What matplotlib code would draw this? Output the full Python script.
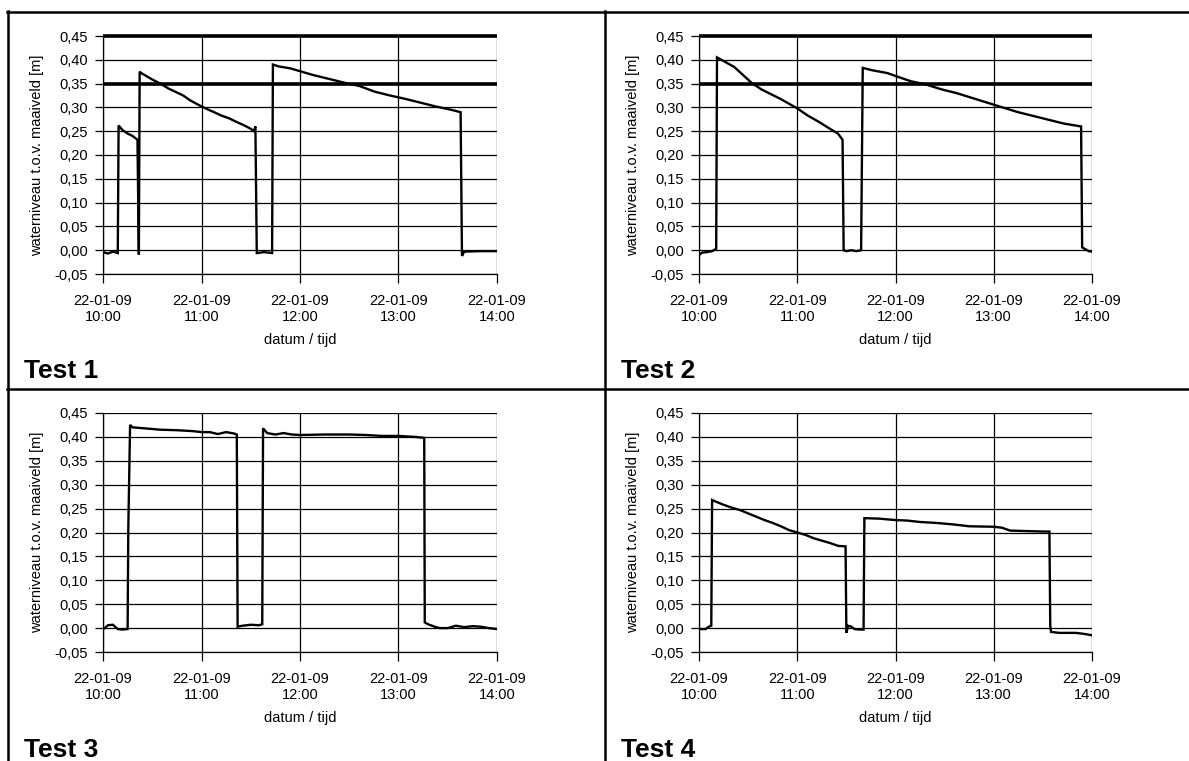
import matplotlib
matplotlib.use("Agg")
import matplotlib.pyplot as plt
import matplotlib.dates as mdates
from matplotlib.lines import Line2D
from matplotlib.ticker import FuncFormatter, MultipleLocator
import pandas as pd

plt.rcParams['font.family'] = ['Liberation Sans', 'DejaVu Sans']

DATE = "2009-01-22 "

# ---------------- data ----------------
test1_times = ["10:00", "10:03", "10:06", "10:09", "10:09:30", "10:12", "10:15", "10:18", "10:21",
               "10:21:50", "10:22:20", "10:23:20", "10:30:20", "10:36", "10:39:40", "10:44", "10:48:50",
               "10:53", "10:58:20", "11:03", "11:07:40", "11:12", "11:16:50", "11:21", "11:26:10",
               "11:30", "11:32", "11:32:50", "11:33:40", "11:34", "11:38", "11:43", "11:43:30",
               "11:47:10", "11:54:10", "12:00", "12:08", "12:17:30", "12:26:50", "12:36:10",
               "12:45:30", "12:54:50", "13:04", "13:13:20", "13:22:40", "13:32", "13:37:50",
               "13:38:40", "13:40", "13:50", "14:00"]
test1_values = [-0.004, -0.007, -0.003, -0.006, 0.262, 0.252, 0.245, 0.240, 0.232,
                -0.009, 0.375, 0.372, 0.358, 0.348, 0.340, 0.333, 0.325,
                0.315, 0.305, 0.297, 0.290, 0.283, 0.277, 0.270, 0.262,
                0.255, 0.250, 0.260, -0.006, -0.006, -0.004, -0.006, 0.390,
                0.386, 0.382, 0.376, 0.368, 0.360, 0.352, 0.345,
                0.333, 0.325, 0.318, 0.310, 0.302, 0.295, 0.290,
                -0.012, -0.003, -0.002, -0.002]

test2_times = ["10:00", "10:02", "10:05", "10:08", "10:10:30", "10:11", "10:21:30", "10:32",
               "10:38", "10:49:40", "11:00", "11:06:20", "11:13", "11:20", "11:24:50", "11:27:40",
               "11:28:20", "11:30", "11:33", "11:36", "11:39", "11:40", "11:45:50", "11:55:10",
               "12:00", "12:09:20", "12:18:40", "12:28", "12:37:20", "12:46:40", "12:56",
               "13:05:20", "13:14:50", "13:24:10", "13:33:30", "13:42:50", "13:53:20", "13:54",
               "13:56", "13:58", "14:00"]
test2_values = [-0.010, -0.005, -0.004, -0.002, 0.003, 0.405, 0.385, 0.352,
                0.338, 0.318, 0.298, 0.283, 0.270, 0.255, 0.245, 0.232,
                0.000, -0.002, 0.000, -0.002, 0.000, 0.383, 0.378, 0.372,
                0.366, 0.355, 0.348, 0.338, 0.330, 0.320, 0.310,
                0.300, 0.290, 0.282, 0.274, 0.266, 0.260, 0.006,
                0.002, -0.002, -0.003]

test3_times = ["10:00", "10:03", "10:06", "10:09", "10:12", "10:15", "10:15:25", "10:16:30", "10:18",
               "10:25", "10:35", "10:45", "10:55", "11:00", "11:05", "11:10", "11:15", "11:20",
               "11:21:30", "11:22", "11:25", "11:30", "11:35", "11:37", "11:37:30", "11:40",
               "11:45", "11:50", "11:55", "12:00", "12:15", "12:30", "12:40", "12:50", "13:00",
               "13:05", "13:10", "13:15:40", "13:16", "13:18", "13:22", "13:25", "13:30", "13:35",
               "13:40", "13:45", "13:50", "13:55", "14:00"]
test3_values = [-0.003, 0.006, 0.007, -0.002, -0.003, -0.002, 0.210, 0.425, 0.420,
                0.418, 0.415, 0.414, 0.412, 0.410, 0.410, 0.406, 0.410, 0.407,
                0.405, 0.003, 0.005, 0.007, 0.006, 0.008, 0.418, 0.408,
                0.405, 0.408, 0.405, 0.404, 0.405, 0.405, 0.404, 0.402, 0.402,
                0.401, 0.400, 0.398, 0.012, 0.008, 0.003, 0.000, 0.000, 0.005,
                0.002, 0.004, 0.003, 0.000, -0.002]

test4_times = ["10:00", "10:04", "10:06", "10:07:30", "10:08", "10:10", "10:15", "10:20", "10:25",
               "10:30", "10:35", "10:40", "10:45", "10:50", "10:55", "11:00", "11:05", "11:10",
               "11:15", "11:20", "11:25", "11:29:30", "11:30", "11:31", "11:33", "11:35", "11:38",
               "11:40:30", "11:41", "11:50", "12:00", "12:07", "12:15", "12:25", "12:35", "12:45",
               "13:00", "13:05", "13:10", "13:20", "13:30", "13:34", "13:34:30", "13:35", "13:40",
               "13:50", "13:55", "14:00"]
test4_values = [-0.002, -0.002, 0.003, 0.005, 0.268, 0.265, 0.258, 0.252, 0.247,
                0.240, 0.233, 0.226, 0.220, 0.213, 0.205, 0.200, 0.195, 0.188,
                0.183, 0.178, 0.172, 0.171, -0.010, 0.005, 0.003, -0.002, -0.003,
                -0.003, 0.230, 0.229, 0.226, 0.225, 0.222, 0.220, 0.217, 0.213,
                0.212, 0.210, 0.204, 0.203, 0.202, 0.202, 0.005, -0.008, -0.010,
                -0.010, -0.012, -0.015]

limit_levels = [0.45, 0.35]           # thick reference lines in Test 1 and Test 2
panel_titles = ["Test 1", "Test 2", "Test 3", "Test 4"]
x_start, x_end = "10:00", "14:00"
y_min, y_max, y_step = -0.05, 0.45, 0.05
x_label = "datum / tijd"
y_label = "waterniveau t.o.v. maaiveld [m]"

series = [(test1_times, test1_values, True),
          (test2_times, test2_values, True),
          (test3_times, test3_values, False),
          (test4_times, test4_values, False)]


def to_dt(times):
    return pd.to_datetime([DATE + s for s in times], format="mixed")


# ---------------- figure ----------------
W, H = 1189, 761
fig = plt.figure(figsize=(W / 100, H / 100), dpi=100)
fig.patch.set_facecolor("white")


def fx(px):
    return px / W


def fy(py):
    return 1 - py / H


# axes rectangles in pixels (left, top, right, bottom)
rects = [(103, 36, 497, 274), (699, 36, 1092, 274),
         (103, 413, 497, 652), (699, 413, 1092, 652)]
title_pos = [(24, 378), (621, 378), (24, 757), (621, 757)]

fs = 10.5
for (times, vals, limits), (l, t, r, b), title, (tx, ty) in zip(series, rects, panel_titles, title_pos):
    ax = fig.add_axes([fx(l), fy(b), fx(r - l), (b - t) / H])
    x = to_dt(times)
    ax.plot(x, vals, color="black", lw=1.7, solid_joinstyle="miter", zorder=3)
    xs = to_dt([x_start, x_end])
    if limits:
        for lev in limit_levels:
            ax.plot(xs, [lev, lev], color="black", lw=2.6, zorder=4, clip_on=False,
                    solid_capstyle="butt")
    ax.set_xlim(xs[0], xs[1])
    ax.set_ylim(y_min, y_max)
    ax.yaxis.set_major_locator(MultipleLocator(y_step))
    ax.yaxis.set_major_formatter(FuncFormatter(lambda v, p: f"{v:.2f}".replace(".", ",")))
    ax.xaxis.set_major_locator(mdates.HourLocator(interval=1))
    ax.xaxis.set_major_formatter(mdates.DateFormatter("%d-%m-%y\n%H:%M"))
    ax.grid(True, color="black", lw=0.9, zorder=1)
    ax.set_axisbelow(True)
    for side in ("top", "right"):
        ax.spines[side].set_visible(False)
    for side in ("left", "bottom"):
        ax.spines[side].set_linewidth(0.9)
    ax.tick_params(axis="y", direction="out", length=6, width=0.9, pad=5, labelsize=fs)
    ax.tick_params(axis="x", direction="out", length=6.5, width=0.9, pad=8, labelsize=fs)
    for lab in ax.get_xticklabels():
        lab.set_horizontalalignment("center")
        lab.set_linespacing(1.15)
    ax.set_xlabel(x_label, fontsize=fs)
    ax.xaxis.set_label_coords(0.5, -59 / (b - t))
    ax.set_ylabel(y_label, fontsize=fs)
    ax.yaxis.set_label_coords(-59 / (r - l), 0.5)
    fig.text(fx(tx), fy(ty), title, fontsize=19, fontweight="bold", va="baseline", ha="left")


# table borders
def hline(py, x0, x1, lw):
    fig.add_artist(Line2D([fx(x0), fx(x1)], [fy(py), fy(py)], color="black", lw=lw,
                          transform=fig.transFigure))


def vline(px, y0, y1, lw):
    fig.add_artist(Line2D([fx(px), fx(px)], [fy(y0), fy(y1)], color="black", lw=lw,
                          transform=fig.transFigure))


hline(11.5, 7, W, 1.8)
hline(388.5, 7, W, 1.8)
vline(8, 10.5, H, 1.8)
vline(604.5, 10.5, H, 1.8)

fig.savefig("out.png", dpi=100, facecolor="white")
